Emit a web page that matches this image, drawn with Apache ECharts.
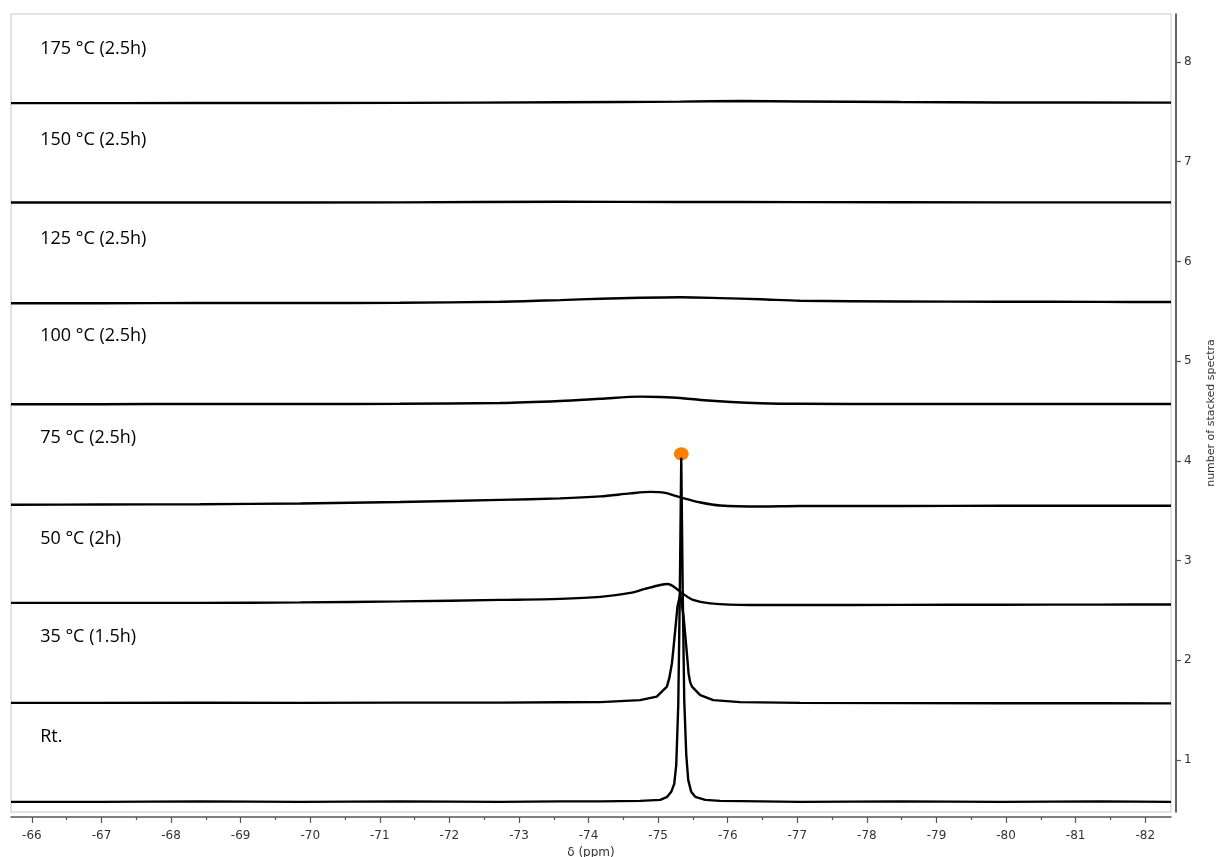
<!DOCTYPE html>
<html>
<head>
<meta charset="utf-8">
<script src="https://cdn.jsdelivr.net/npm/echarts@6/dist/echarts.min.js"></script>
<style>html,body{margin:0;padding:0;background:#fff;}#chart{width:1218px;height:857px;}</style>
</head>
<body>
<div id="chart"></div>
<script>
// δ (ppm) tick labels
const xTicks = [-66,-67,-68,-69,-70,-71,-72,-73,-74,-75,-76,-77,-78,-79,-80,-81,-82];
const xMinorTicks = [-66.5,-67.5,-68.5,-69.5,-70.5,-71.5,-72.5,-73.5,-74.5,-75.5,-76.5,-77.5,-78.5,-79.5,-80.5,-81.5];
const yTicks = [1,2,3,4,5,6,7,8];

// spectrum labels and their positions
const labelNames = ['Rt.','35 °C (1.5h)','50 °C (2h)','75 °C (2.5h)','100 °C (2.5h)','125 °C (2.5h)','150 °C (2.5h)','175 °C (2.5h)'];
const labelPos = [1.231, 2.234, 3.216, 4.229, 5.252, 6.225, 7.218, 8.130];

// spectra, [δ ppm, stacked intensity]
const specRt = [[-65.70,0.58],[-66.98,0.58],[-68.42,0.585],[-69.86,0.58],[-71.29,0.585],[-72.73,0.58],[-73.59,0.585],[-74.17,0.585],[-74.74,0.59],
  [-75.03,0.60],[-75.13,0.63],[-75.188,0.68],[-75.231,0.76],[-75.26,0.95],[-75.289,1.55],[-75.31,2.6],[-75.332,4.03],
  [-75.353,2.7],[-75.375,1.6],[-75.404,1.05],[-75.432,0.8],[-75.475,0.68],[-75.533,0.63],[-75.677,0.60],[-75.89,0.59],
  [-76.47,0.585],[-77.04,0.58],[-78.48,0.585],[-79.92,0.58],[-81.36,0.585],[-82.37,0.58]];
const spec35 = [[-65.70,1.572],[-66.98,1.572],[-68.42,1.575],[-69.86,1.572],[-71.29,1.575],[-72.73,1.575],[-73.59,1.578],[-74.17,1.58],[-74.74,1.60],
  [-74.98,1.635],[-75.126,1.735],[-75.16,1.82],[-75.198,1.97],[-75.22,2.12],[-75.245,2.30],[-75.278,2.54],[-75.318,2.665],
  [-75.365,2.44],[-75.404,2.14],[-75.437,1.87],[-75.46,1.78],[-75.486,1.735],[-75.605,1.65],[-75.792,1.60],[-76.18,1.58],
  [-77.04,1.572],[-78.48,1.57],[-79.92,1.568],[-81.36,1.568],[-82.37,1.567]];
const spec50 = [[-65.70,2.575],[-66.98,2.575],[-68.42,2.575],[-69.86,2.580],[-71.29,2.590],[-72.73,2.605],[-73.59,2.615],[-74.17,2.635],
  [-74.60,2.675],[-74.81,2.715],[-75.03,2.755],[-75.14,2.765],[-75.25,2.725],[-75.36,2.665],[-75.50,2.605],[-75.75,2.570],
  [-76.32,2.554],[-77.04,2.554],[-78.48,2.555],[-79.92,2.557],[-81.36,2.558],[-82.37,2.559]];
const spec75 = [[-65.70,3.560],[-66.98,3.562],[-68.42,3.565],[-69.86,3.572],[-71.29,3.587],[-72.73,3.608],[-73.59,3.623],[-74.17,3.643],
  [-74.60,3.673],[-74.89,3.688],[-75.10,3.678],[-75.32,3.633],[-75.61,3.582],[-75.89,3.552],[-76.47,3.542],[-77.04,3.547],
  [-78.48,3.547],[-79.92,3.550],[-81.36,3.550],[-82.37,3.550]];
const spec100 = [[-65.70,4.567],[-66.98,4.568],[-68.42,4.570],[-69.86,4.570],[-71.29,4.572],[-72.73,4.580],[-73.59,4.600],[-74.17,4.622],
  [-74.74,4.644],[-75.03,4.640],[-75.32,4.630],[-75.61,4.610],[-76.05,4.590],[-76.47,4.578],[-77.04,4.572],[-78.48,4.570],
  [-79.92,4.570],[-81.36,4.570],[-82.37,4.570]];
const spec125 = [[-65.70,5.580],[-66.98,5.580],[-68.42,5.582],[-69.86,5.582],[-71.29,5.585],[-72.73,5.595],[-73.59,5.612],[-74.17,5.625],
  [-74.74,5.635],[-75.32,5.640],[-75.89,5.632],[-76.47,5.620],[-77.04,5.605],[-78.48,5.598],[-79.92,5.595],[-81.36,5.594],[-82.37,5.592]];
const spec150 = [[-65.70,6.590],[-68.42,6.590],[-71.29,6.592],[-73.59,6.598],[-75.32,6.596],[-77.04,6.594],[-79.92,6.592],[-82.37,6.592]];
const spec175 = [[-65.70,7.587],[-68.42,7.588],[-71.29,7.590],[-73.59,7.596],[-75.32,7.602],[-76.20,7.608],[-77.04,7.604],[-78.48,7.598],
  [-79.92,7.594],[-82.37,7.592]];

// orange marker at the Rt. peak top
const peakMarker = [[-75.332, 4.07]];

const spectra = [specRt, spec35, spec50, spec75, spec100, spec125, spec150, spec175];

const chart = echarts.init(document.getElementById('chart'), null, {renderer: 'canvas'});

const series = spectra.map((d, i) => ({
  type: 'line', data: d, xAxisIndex: 0, yAxisIndex: 0,
  symbol: 'none', silent: true, animation: false,
  smooth: i >= 2 ? 0.3 : false,
  lineStyle: {color: '#000', width: 2.4}
}));

series.push({
  type: 'scatter', data: peakMarker, xAxisIndex: 0, yAxisIndex: 0,
  symbol: 'circle', symbolSize: [15, 13], silent: true, animation: false,
  itemStyle: {color: '#FF8000', opacity: 1}
});

series.push({
  type: 'scatter', xAxisIndex: 0, yAxisIndex: 0, symbolSize: 0, silent: true, animation: false,
  itemStyle: {opacity: 1},
  data: labelNames.map((n, i) => ({name: n, value: [-66.119, labelPos[i]]})),
  label: {
    show: true, position: 'right', distance: 0, formatter: '{b}', opacity: 1,
    fontFamily: 'Open Sans', fontSize: 18, color: '#000', align: 'left', verticalAlign: 'middle'
  }
});

const option = {
  backgroundColor: '#fff',
  animation: false,
  grid: {left: 11, right: 47, top: 14, bottom: 45, show: true, borderColor: '#dadada', borderWidth: 1.5,
         containLabel: false, outerBoundsMode: 'none'},
  xAxis: [{
    type: 'value', min: -82.37, max: -65.70, inverse: true, position: 'bottom', offset: 5,
    name: 'δ (ppm)', nameLocation: 'middle', nameGap: 25,
    nameTextStyle: {fontFamily: 'DejaVu Sans', fontSize: 12, color: '#333'},
    axisLine: {show: true, lineStyle: {color: '#555', width: 1.5}},
    axisTick: {show: true, customValues: xTicks, length: 6, lineStyle: {color: '#555', width: 1.2}},
    axisLabel: {show: true, customValues: xTicks, margin: 13, fontFamily: 'DejaVu Sans', fontSize: 12, color: '#333'},
    splitLine: {show: false}
  }, {
    type: 'value', min: -82.37, max: -65.70, inverse: true, position: 'bottom', offset: 5,
    axisLine: {show: false},
    axisTick: {show: true, customValues: xMinorTicks, length: 3, lineStyle: {color: '#555', width: 1.2}},
    axisLabel: {show: false},
    splitLine: {show: false}
  }],
  yAxis: [{
    type: 'value', min: 0.478, max: 8.481, position: 'right', offset: 5,
    name: 'number of stacked spectra', nameLocation: 'middle', nameGap: 30, nameRotate: 90,
    nameTextStyle: {fontFamily: 'DejaVu Sans', fontSize: 11, color: '#333'},
    axisLine: {show: true, lineStyle: {color: '#333', width: 1.5}},
    axisTick: {show: true, customValues: yTicks, length: 5, lineStyle: {color: '#555', width: 1.2}},
    axisLabel: {show: true, customValues: yTicks, margin: 8, fontFamily: 'DejaVu Sans', fontSize: 12, color: '#333'},
    splitLine: {show: false}
  }],
  series: series
};

chart.setOption(option);
</script>
</body>
</html>
